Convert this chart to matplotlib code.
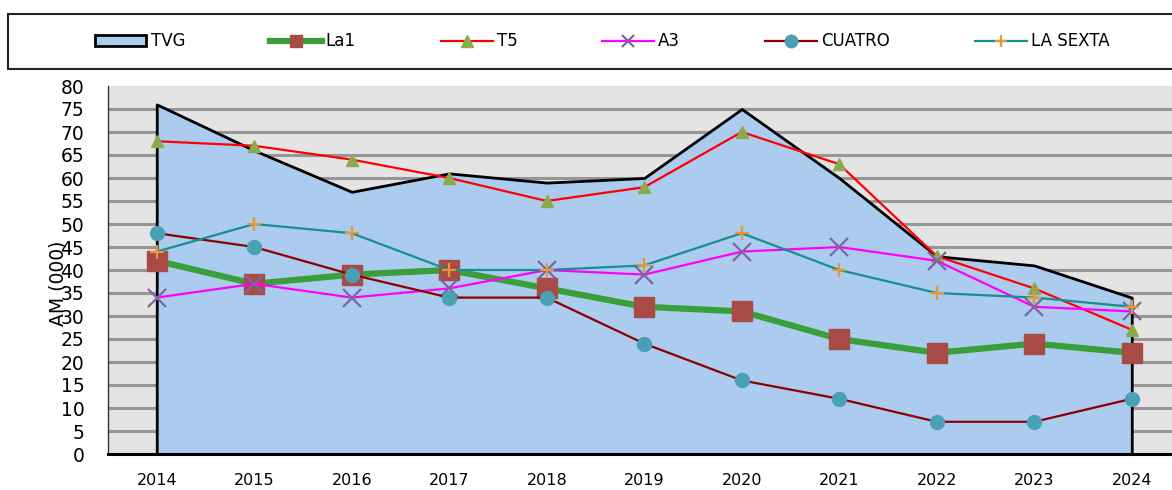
import matplotlib
matplotlib.use("Agg")
import matplotlib.pyplot as plt
from matplotlib.patches import Rectangle
import numpy as np

# data
years = [2014, 2015, 2016, 2017, 2018, 2019, 2020, 2021, 2022, 2023, 2024]
tvg = [76, 66, 57, 61, 59, 60, 75, 60, 43, 41, 34]
la1 = [42, 37, 39, 40, 36, 32, 31, 25, 22, 24, 22]
t5 = [68, 67, 64, 60, 55, 58, 70, 63, 43, 36, 27]
a3 = [34, 37, 34, 36, 40, 39, 44, 45, 42, 32, 31]
cuatro = [48, 45, 39, 34, 34, 24, 16, 12, 7, 7, 12]
lasexta = [44, 50, 48, 40, 40, 41, 48, 40, 35, 34, 32]

plt.rcParams['font.family'] = ['DejaVu Sans']

W, H = 1172, 490
fig = plt.figure(figsize=(W / 100, H / 100), dpi=100)
# plot area: x 108 -> 1180 (cut off at right edge), y 86 -> 454
ax = fig.add_axes([108 / W, (H - 454) / H, 1072.5 / W, (454 - 86) / H])
ax.set_facecolor('#e4e4e4')

x = np.arange(len(years))

# gridlines (hidden under the area)
for v in range(5, 80, 5):
    ax.axhline(v, color='#969696', lw=2.2, zorder=0)

# TVG area
ax.fill_between(x, 0, tvg, facecolor='#abcbef', edgecolor='black', lw=2.0, zorder=1)

ax.plot(x, la1, color='#3a9f3a', lw=4.5, marker='s', ms=14, mfc='#a84b45', mec='#a84b45', zorder=2)
ax.plot(x, t5, color='#ff0000', lw=1.6, marker='^', ms=9, mfc='#8aab4c', mec='#8aab4c', zorder=3)
ax.plot(x, a3, color='#ff00ff', lw=1.6, marker='x', ms=13, mew=1.6, mec='#8064a2', zorder=4)
ax.plot(x, cuatro, color='#8b0000', lw=1.6, marker='o', ms=10, mfc='#4aa0b5', mec='#4aa0b5', zorder=5)
ax.plot(x, lasexta, color='#168f8f', lw=1.6, marker='+', ms=10, mew=1.6, mec='#e8963c', zorder=6)

ax.set_xlim(-0.5, 10.5)
ax.set_ylim(0, 80)
ax.set_yticks(range(0, 81, 5))
ax.set_xticks(x)
ax.set_xticklabels([str(y) for y in years])
ax.tick_params(axis='y', length=0, pad=17, labelsize=13.5)
ax.tick_params(axis='x', length=0, pad=14, labelsize=11.5)
for s in ['top', 'right']:
    ax.spines[s].set_visible(False)
ax.spines['left'].set_color('#333333')
ax.spines['left'].set_linewidth(1.0)
ax.spines['bottom'].set_color('black')
ax.spines['bottom'].set_linewidth(2.2)
ax.spines['bottom'].set_zorder(7)

fig.text(58 / W, 1 - 283 / H, 'AM (000)', rotation=90, ha='center', va='center', fontsize=13.5)

# legend box
fig.patches.append(Rectangle((8 / W, 1 - 69 / H), (1180 - 8) / W, 55 / H,
                             transform=fig.transFigure, facecolor='white',
                             edgecolor='#222222', lw=1.5, zorder=0))
handles = [
    Rectangle((0, 0), 1, 1, facecolor='#abcbef', edgecolor='black', lw=2.0),
    plt.Line2D([], [], color='#3a9f3a', lw=4.5, marker='s', ms=9, mfc='#a84b45', mec='#a84b45'),
    plt.Line2D([], [], color='#ff0000', lw=1.6, marker='^', ms=8, mfc='#8aab4c', mec='#8aab4c'),
    plt.Line2D([], [], color='#ff00ff', lw=1.6, marker='x', ms=8, mew=1.6, mec='#8064a2'),
    plt.Line2D([], [], color='#8b0000', lw=1.6, marker='o', ms=9, mfc='#4aa0b5', mec='#4aa0b5'),
    plt.Line2D([], [], color='#168f8f', lw=1.6, marker='+', ms=9, mew=1.6, mec='#e8963c'),
]
labels = ['TVG', 'La1', 'T5', 'A3', 'CUATRO', 'LA SEXTA']
fig.legend(handles, labels, loc='center', bbox_to_anchor=(602 / W, 1 - 41.5 / H),
           ncol=6, frameon=False, fontsize=12, handlelength=3.1, handleheight=0.7,
           handletextpad=0.25, columnspacing=5.1, borderpad=0)

fig.savefig('out.png', dpi=100)
